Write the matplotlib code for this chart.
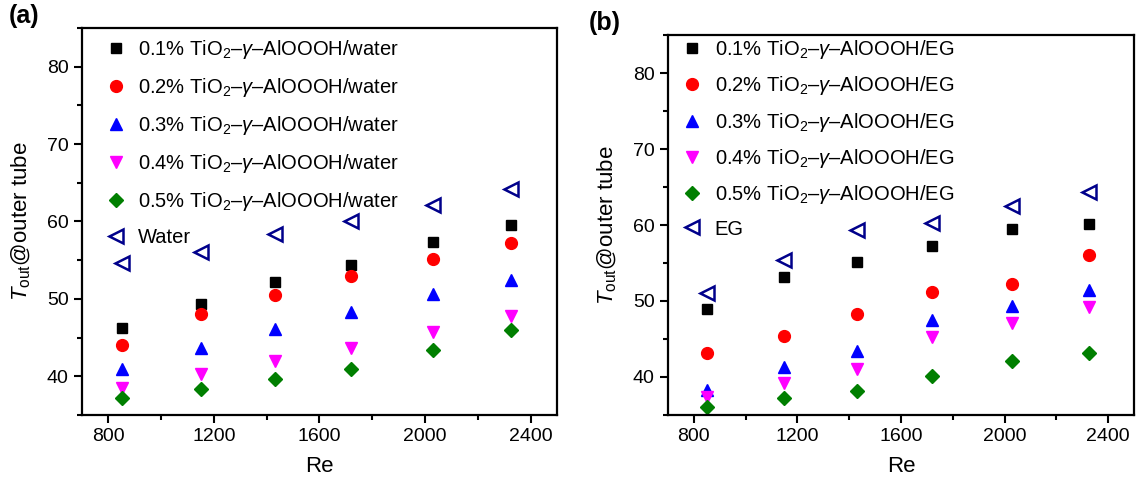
import matplotlib
matplotlib.use("Agg")
import matplotlib.pyplot as plt
from matplotlib.ticker import MultipleLocator

plt.rcParams['font.family'] = ['Liberation Sans', 'DejaVu Sans']
plt.rcParams['mathtext.fontset'] = 'custom'
plt.rcParams['mathtext.rm'] = 'Liberation Sans'
plt.rcParams['mathtext.it'] = 'Liberation Sans:italic'
plt.rcParams['mathtext.bf'] = 'Liberation Sans:bold'

# Reynolds numbers (same for both panels)
re = [850, 1150, 1430, 1720, 2030, 2325]

# panel (a): water based
water_01 = [46.3, 49.4, 52.2, 54.4, 57.4, 59.6]
water_02 = [44.1, 48.1, 50.5, 53.0, 55.2, 57.2]
water_03 = [40.9, 43.7, 46.1, 48.3, 50.6, 52.5]
water_04 = [38.5, 40.3, 42.0, 43.7, 45.7, 47.8]
water_05 = [37.2, 38.4, 39.7, 41.0, 43.4, 46.0]
water_base = [54.7, 56.1, 58.4, 60.1, 62.1, 64.2]

# panel (b): EG based
eg_01 = [48.9, 53.2, 55.1, 57.3, 59.5, 60.1]
eg_02 = [43.1, 45.4, 48.3, 51.2, 52.2, 56.1]
eg_03 = [38.3, 41.3, 43.4, 47.5, 49.3, 51.4]
eg_04 = [37.4, 39.2, 41.1, 45.3, 47.1, 49.2]
eg_05 = [36.1, 37.2, 38.2, 40.1, 42.1, 43.2]
eg_base = [51.1, 55.4, 59.3, 60.3, 62.5, 64.3]

concs = ["0.1%", "0.2%", "0.3%", "0.4%", "0.5%"]

styles = [
    dict(marker='s', color='black', ms=7.5),
    dict(marker='o', color='#ff0000', ms=8.5),
    dict(marker='^', color='#0000ff', ms=9),
    dict(marker='v', color='#ff00ff', ms=9),
    dict(marker='D', color='#007f00', ms=7.5),
]


def draw_panel(ax, series, base, fluid, base_name, letter, leg_anchor, letter_x, spacing):
    for vals, conc, st in zip(series, concs, styles):
        ax.plot(re, vals, linestyle='none', marker=st['marker'], ms=st['ms'],
                color=st['color'], markeredgecolor=st['color'],
                label=conc + r" TiO$_2$–$\gamma$–AlOOOH/" + fluid)
    ax.plot(re, base, linestyle='none', marker='<', ms=10.5, markerfacecolor='none',
            markeredgecolor='#00008b', markeredgewidth=1.8, label=base_name)

    ax.set_xlim(700, 2500)
    ax.set_ylim(35, 85)
    ax.xaxis.set_major_locator(MultipleLocator(400))
    ax.xaxis.set_minor_locator(MultipleLocator(200))
    ax.yaxis.set_minor_locator(MultipleLocator(5))
    ax.set_yticks([40, 50, 60, 70, 80])
    ax.tick_params(which='major', direction='out', length=6, width=1.5, labelsize=14)
    ax.tick_params(which='minor', direction='out', length=3.5, width=1.5)
    for sp in ax.spines.values():
        sp.set_linewidth(1.6)

    ax.set_xlabel("Re", fontsize=16, labelpad=8)
    ax.set_ylabel(r"$T_{\mathrm{out}}$@outer tube", fontsize=16, labelpad=10)
    ax.text(letter_x, 1.0, letter, transform=ax.transAxes, fontsize=18,
            fontweight='bold', va='bottom', ha='left')

    ax.legend(loc='upper left', bbox_to_anchor=leg_anchor, frameon=False,
              fontsize=14.5, handlelength=0.8, handletextpad=0.7,
              labelspacing=spacing, borderaxespad=0, borderpad=0)


fig = plt.figure(figsize=(11.37, 4.84), dpi=100)
ax_a = fig.add_axes([0.0721, 0.1426, 0.4178, 0.7996])
ax_b = fig.add_axes([0.5875, 0.1426, 0.4098, 0.785])

draw_panel(ax_a, [water_01, water_02, water_03, water_04, water_05], water_base,
           "water", "Water", "(a)", (0.055, 0.975), -0.155, 0.75)
draw_panel(ax_b, [eg_01, eg_02, eg_03, eg_04, eg_05], eg_base,
           "EG", "EG", "(b)", (0.035, 0.992), -0.17, 0.66)

fig.savefig("out.png", dpi=100)
